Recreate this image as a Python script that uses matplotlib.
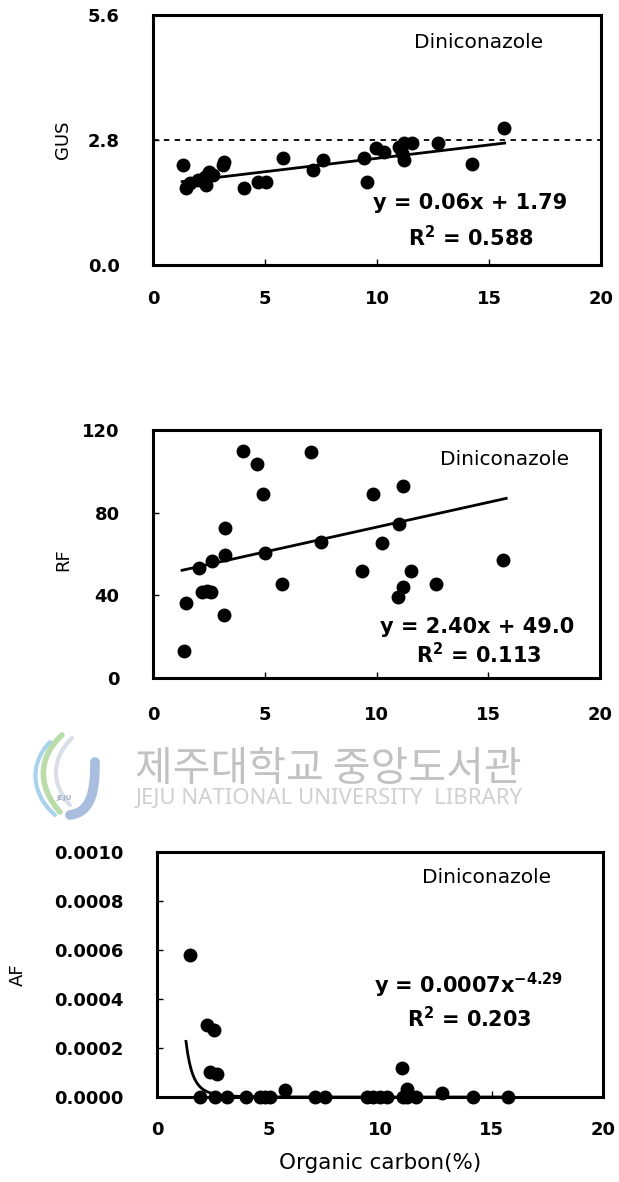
import numpy as np
import matplotlib
matplotlib.use("Agg")
import matplotlib.pyplot as plt
from matplotlib.ticker import FormatStrFormatter
from matplotlib.path import Path
from matplotlib.patches import PathPatch

plt.rcParams["font.family"] = ["DejaVu Sans"]

# GUS vs organic carbon
oc_gus = [1.34, 1.48, 1.63, 2.0, 2.3, 2.37, 2.52, 2.67, 3.12, 3.19, 4.08, 4.67,
          5.04, 5.79, 7.12, 7.57, 9.42, 9.57, 9.94, 10.3, 10.98, 11.1, 11.2,
          11.2, 11.57, 12.7, 14.24, 15.65]
gus = [2.23, 1.72, 1.83, 1.90, 1.98, 1.79, 2.09, 2.02, 2.24, 2.31, 1.72, 1.87,
       1.87, 2.39, 2.13, 2.35, 2.39, 1.87, 2.61, 2.54, 2.65, 2.50, 2.73,
       2.35, 2.73, 2.73, 2.26, 3.06]
gus_fit = (0.06, 1.79)

# RF vs organic carbon
oc_rf = [1.37, 1.49, 2.06, 2.2, 2.4, 2.6, 2.65, 3.16, 3.21, 3.21, 4.04, 4.65,
         4.9, 5.0, 5.78, 7.07, 7.5, 9.35, 9.82, 10.24, 10.98, 11.02, 11.2,
         11.2, 11.53, 12.66, 15.65]
rf = [13.1, 36.2, 53.1, 41.5, 42.3, 41.5, 56.4, 30.4, 59.7, 72.6, 109.7, 103.6,
      89.1, 60.7, 45.3, 109.4, 66.0, 51.9, 88.8, 65.5, 39.2, 74.6, 44.1,
      93.1, 51.8, 45.4, 57.1]
rf_fit = (2.40, 49.0)

# AF vs organic carbon
oc_af = [1.48, 1.93, 2.23, 2.38, 2.56, 2.6, 2.68, 3.15, 3.99, 4.62, 4.84, 5.07,
         5.74, 7.08, 7.53, 9.4, 9.7, 10.0, 10.3, 10.97, 11.04, 11.2, 11.2,
         11.6, 12.77, 14.19, 15.75]
af = [5.78e-4, 0.1e-5, 2.93e-4, 1.02e-4, 2.72e-4, 0.0, 0.93e-4, 0.0, 0.0, 0.0,
      0.0, 0.0, 0.27e-4, 0.0, 0.0, 0.0, 0.0, 0.0, 0.0, 1.2e-4, 0.0, 0.34e-4,
      0.0, 0.0, 0.16e-4, 0.0, 0.0]
af_fit = (0.0007, -4.29)

fig = plt.figure(figsize=(6.19, 11.82), dpi=100)

def style_axes(ax, xpad=18):
    for s in ax.spines.values():
        s.set_linewidth(2.2)
    ax.tick_params(direction="in", length=4, width=1, labelsize=13)
    ax.tick_params(axis="y", pad=24)
    ax.tick_params(axis="x", pad=xpad)
    ax.set_xlim(0, 20)
    ax.set_xticks([0, 5, 10, 15, 20])

def bold_ticks(ax):
    for lbl in ax.get_xticklabels() + ax.get_yticklabels():
        lbl.set_fontweight("bold")

def dots(ax, x, y):
    ax.plot(x, y, "o", color="black", ms=9, ls="none", clip_on=False, zorder=3)

def labels(ax, name_xy, eq_xy, eq, r2_xy, r2):
    kw = dict(transform=ax.transAxes, ha="center", va="center")
    ax.text(*name_xy, "Diniconazole", fontsize=14.5, **kw)
    ax.text(*eq_xy, eq, fontsize=15, fontweight="bold", **kw)
    ax.text(*r2_xy, r2, fontsize=15, fontweight="bold", **kw)

# top panel
ax1 = fig.add_axes([0.2472, 0.7758, 0.7238, 0.2115])
style_axes(ax1)
ax1.set_ylim(0, 5.6)
ax1.set_yticks([0.0, 2.8, 5.6])
ax1.yaxis.set_major_formatter(FormatStrFormatter("%.1f"))
ax1.axhline(2.8, color="black", lw=1.3, ls=(0, (3, 3)))
xs = np.linspace(1.3, 15.7, 50)
ax1.plot(xs, gus_fit[0] * xs + gus_fit[1], color="black", lw=2)
dots(ax1, oc_gus, gus)
ax1.set_ylabel("GUS", fontsize=13)
ax1.yaxis.set_label_coords(-0.181, 0.5)
labels(ax1, (0.727, 0.89), (0.707, 0.248), "y = 0.06x + 1.79",
       (0.71, 0.108), r"R$^\mathbf{2}$ = 0.588")

# middle panel
ax2 = fig.add_axes([0.2472, 0.4264, 0.7222, 0.2098])
style_axes(ax2, xpad=20)
ax2.set_ylim(0, 120)
ax2.set_yticks([0, 40, 80, 120])
xs = np.linspace(1.3, 15.8, 50)
ax2.plot(xs, rf_fit[0] * xs + rf_fit[1], color="black", lw=2)
dots(ax2, oc_rf, rf)
ax2.set_ylabel("RF", fontsize=13)
ax2.yaxis.set_label_coords(-0.181, 0.476)
labels(ax2, (0.787, 0.883), (0.726, 0.206), "y = 2.40x + 49.0",
       (0.728, 0.093), r"R$^\mathbf{2}$ = 0.113")

# bottom panel
ax3 = fig.add_axes([0.2536, 0.0719, 0.7206, 0.2073])
style_axes(ax3, xpad=17)
ax3.set_ylim(0, 0.001)
ax3.set_yticks(np.arange(0, 0.00101, 0.0002))
ax3.yaxis.set_major_formatter(FormatStrFormatter("%.4f"))
xs = np.linspace(1.3, 15.8, 200)
ax3.plot(xs, af_fit[0] * xs ** af_fit[1], color="black", lw=2)
dots(ax3, oc_af, af)
ax3.set_ylabel("AF", fontsize=13)
ax3.yaxis.set_label_coords(-0.292, 0.5)
ax3.set_xlabel("Organic carbon(%)", fontsize=15.5, labelpad=10)
labels(ax3, (0.738, 0.894), (0.697, 0.457), r"y = 0.0007x$^{\mathbf{-4.29}}$",
       (0.70, 0.322), r"R$^\mathbf{2}$ = 0.203")

for ax in (ax1, ax2, ax3):
    bold_ticks(ax)

# library watermark between the middle and bottom panels
fig.text(135 / 619, 1 - 770 / 1182, "제주대학교 중앙도서관", fontsize=29.5, color="#c2c2c2",
         family=["Noto Sans CJK KR"], ha="left", va="center")
fig.text(136 / 619, 1 - 799 / 1182, "JEJU NATIONAL UNIVERSITY  LIBRARY", fontsize=16,
         color="#d0d0d0", family=["Noto Sans"], ha="left", va="center")

def px(x, y):
    return (x / 619, 1 - y / 1182)

def swoosh(pts, color, lw):
    verts = [px(*p) for p in pts]
    codes = [Path.MOVETO] + [Path.CURVE4] * (len(verts) - 1)
    fig.patches.append(PathPatch(Path(verts, codes), transform=fig.transFigure,
                                 fill=False, edgecolor=color, lw=lw, capstyle="round"))

swoosh([(62, 735), (35, 760), (40, 790), (60, 812)], "#b9dca8", 4)
swoosh([(50, 742), (28, 765), (32, 795), (55, 815)], "#a9d3ec", 3)
swoosh([(72, 738), (50, 760), (52, 785), (70, 805)], "#d8dfe8", 3)
swoosh([(95, 762), (95, 790), (92, 812), (70, 815)], "#a9bedf", 7)
fig.text(px(64, 798)[0], px(64, 798)[1], "JEJU", fontsize=5, color="#a8b4c8",
         ha="center", va="center", fontweight="bold")

fig.savefig("out.png", dpi=100)
